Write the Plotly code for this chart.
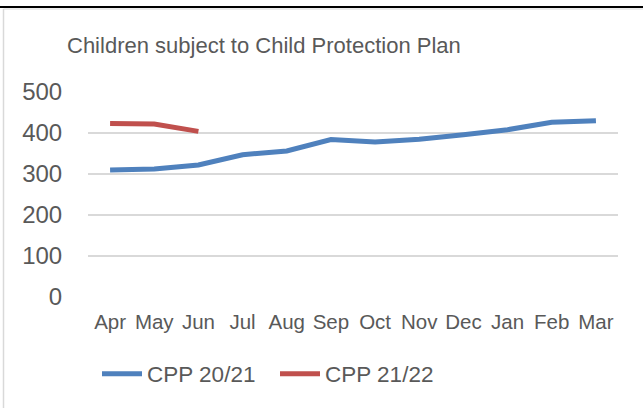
import plotly.graph_objects as go

months = ["Apr", "May", "Jun", "Jul", "Aug", "Sep", "Oct", "Nov", "Dec", "Jan", "Feb", "Mar"]
cpp_2021 = [310, 312, 322, 347, 356, 384, 378, 385, 396, 408, 426, 430]
cpp_2122 = [423, 422, 404]
y_ticks = [0, 100, 200, 300, 400, 500]

W, H = 643, 408
L, R, T, B = 88, 25, 92, 111
pw, ph = W - L - R, H - T - B

def px(x):
    return (x - L) / pw

def py(y):
    return (H - B - y) / ph

font = "Liberation Sans, Arial, sans-serif"
txt = "#595959"

fig = go.Figure()
fig.add_trace(go.Scatter(x=months, y=cpp_2021, mode="lines", name="CPP 20/21",
                         line=dict(color="#4F81BD", width=5)))
fig.add_trace(go.Scatter(x=months[:len(cpp_2122)], y=cpp_2122, mode="lines", name="CPP 21/22",
                         line=dict(color="#C0504D", width=5)))

fig.update_layout(
    width=W, height=H,
    margin=dict(l=L, r=R, t=T, b=B),
    paper_bgcolor="white", plot_bgcolor="white",
    font=dict(family=font, color=txt),
    showlegend=True,
    legend=dict(orientation="h", x=px(97), xanchor="left", y=py(374), yanchor="middle",
                font=dict(size=22.5, color=txt), itemwidth=40,
                entrywidth=123, entrywidthmode="pixels", bgcolor="rgba(0,0,0,0)"),
    annotations=[dict(text="Children subject to Child Protection Plan", x=px(264), y=py(45),
                      xref="paper", yref="paper", xanchor="center", yanchor="middle",
                      showarrow=False, font=dict(size=22, color=txt))],
    shapes=[
        dict(type="line", xref="paper", yref="paper", x0=px(0), x1=px(643), y0=py(7), y1=py(7),
             line=dict(color="black", width=2)),
        dict(type="line", xref="paper", yref="paper", x0=px(3.5), x1=px(643), y0=py(9), y1=py(9),
             line=dict(color="#D9D9D9", width=1)),
        dict(type="line", xref="paper", yref="paper", x0=px(3.5), x1=px(3.5), y0=py(9), y1=py(408),
             line=dict(color="#D9D9D9", width=1.5)),
    ],
)
fig.update_xaxes(type="category", categoryorder="array", categoryarray=months,
                 range=[-0.5, len(months) - 0.5],
                 showgrid=False, showline=False, zeroline=False,
                 tickfont=dict(size=20.5, color=txt), ticks="", ticklabelstandoff=10)
fig.update_yaxes(range=[0, 500], tickvals=y_ticks, showgrid=True, gridcolor="#D9D9D9", gridwidth=1.5,
                 zeroline=False, showline=False, tickfont=dict(size=24, color=txt),
                 ticks="outside", ticklen=20, tickcolor="rgba(0,0,0,0)")

fig.write_html("out.html")
